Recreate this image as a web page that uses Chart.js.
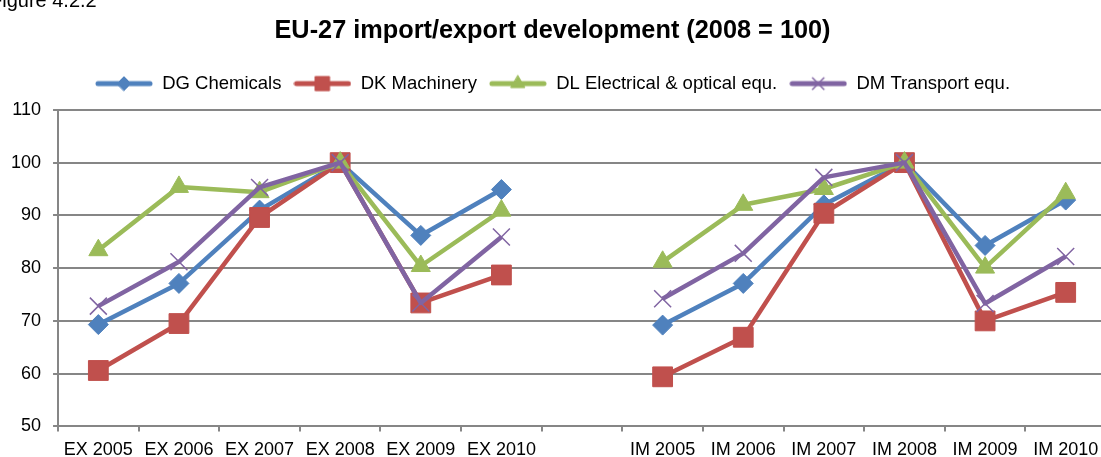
<!DOCTYPE html>
<html>
<head>
<meta charset="utf-8">
<script src="https://cdn.jsdelivr.net/npm/chart.js@4"></script>
<style>
  html, body { margin: 0; padding: 0; background: #fff; overflow: hidden; }
  #wrap { position: absolute; left: 0; top: 0; width: 1124px; height: 469px; }
</style>
</head>
<body>
<div id="wrap"><canvas id="myChart"></canvas></div>
<script>
// categories: exports, an empty slot, then imports
const categories = ['EX 2005', 'EX 2006', 'EX 2007', 'EX 2008', 'EX 2009', 'EX 2010', '',
  'IM 2005', 'IM 2006', 'IM 2007', 'IM 2008', 'IM 2009', 'IM 2010'];

// index values, 2008 = 100
const chemicals  = [69.3, 77.1, 91.0, 100, 86.2, 94.9, null, 69.2, 77.1, 92.0, 100, 84.3, 92.9];
const machinery  = [60.6, 69.5, 89.6, 100, 73.4, 78.7, null, 59.4, 66.9, 90.4, 100, 70.0, 75.4];
const electrical = [83.4, 95.4, 94.4, 100, 80.4, 90.9, null, 81.2, 92.0, 95.0, 100, 80.1, 94.2];
const transport  = [72.8, 81.2, 95.3, 100, 73.4, 85.9, null, 74.2, 82.8, 97.2, 100, 73.3, 82.2];

const seriesNames = ['DG Chemicals', 'DK Machinery', 'DL Electrical & optical equ.', 'DM Transport equ.'];
const yTicks = [50, 60, 70, 80, 90, 100, 110];

const FONT = 'Liberation Sans, Arial, sans-serif';
const GRID = '#868686';

const series = [
  { data: chemicals,  color: '#4F81BD', style: 'rectRot', radius: 10, legendRadius: 7 },
  { data: machinery,  color: '#C0504D', style: 'rect',    radius: 14, legendRadius: 10 },
  { data: electrical, color: '#9BBB59', style: 'triangle', radius: 11, legendRadius: 8 },
  { data: transport,  color: '#8064A2', style: 'crossRot', radius: 12, legendRadius: 8 },
];

// legend icon: a short thick line with the marker in the middle
function legendIcon(s) {
  const c = document.createElement('canvas');
  c.width = 58; c.height = 24;
  const g = c.getContext('2d');
  g.strokeStyle = s.color; g.fillStyle = s.color;
  g.lineWidth = 5; g.lineCap = 'round';
  g.beginPath(); g.moveTo(3, 12); g.lineTo(55, 12); g.stroke();
  g.lineWidth = s.style === 'crossRot' ? 1.5 : 1;
  Chart.helpers.drawPoint(g, { pointStyle: s.style, radius: s.legendRadius, borderWidth: g.lineWidth }, 29, 12);
  return c;
}
const legendIcons = series.map(legendIcon);

// caption that sits cut off in the top left corner
const captionPlugin = {
  id: 'caption',
  afterDraw(chart) {
    const ctx = chart.ctx;
    ctx.save();
    ctx.font = '20px ' + FONT;
    ctx.fillStyle = '#000';
    ctx.textBaseline = 'alphabetic';
    ctx.fillText('Figure 4.2.2', -10, 7);
    ctx.restore();
  }
};

const ctx = document.getElementById('myChart');
new Chart(ctx, {
  type: 'line',
  data: {
    labels: categories,
    datasets: series.map((s, i) => ({
      label: seriesNames[i],
      data: s.data,
      borderColor: s.color,
      backgroundColor: s.color,
      borderWidth: 4.5,
      borderJoinStyle: 'round',
      tension: 0,
      spanGaps: false,
      pointStyle: s.style,
      pointRadius: s.radius,
      pointHoverRadius: s.radius,
      pointBorderWidth: s.style === 'crossRot' ? 1.5 : 1,
      pointBackgroundColor: s.color,
      pointBorderColor: s.color,
      order: series.length - i  // later series drawn on top, like the original
    }))
  },
  options: {
    responsive: true,
    maintainAspectRatio: false,
    animation: false,
    layout: { padding: { left: -1, right: 18, top: 0, bottom: 0 } },
    plugins: {
      title: {
        display: true,
        text: 'EU-27 import/export development (2008 = 100)',
        color: '#000',
        font: { family: FONT, size: 25.3, weight: 'bold' },
        padding: { top: 16, bottom: 16 }
      },
      legend: {
        display: true,
        position: 'top',
        labels: {
          color: '#000',
          font: { family: FONT, size: 18.5 },
          usePointStyle: true,
          pointStyleWidth: 58,
          padding: 12,
          sort: (a, b) => a.datasetIndex - b.datasetIndex,
          generateLabels: chart => Chart.defaults.plugins.legend.labels.generateLabels(chart)
            .map(item => ({ ...item, pointStyle: legendIcons[item.datasetIndex] }))
        }
      },
      tooltip: { enabled: false }
    },
    scales: {
      x: {
        type: 'category',
        offset: true,
        grid: { display: true, drawOnChartArea: false, drawTicks: true, tickLength: 5, offset: true, color: GRID, lineWidth: 2 },
        border: { display: true, color: GRID, width: 2 },
        ticks: { color: '#000', font: { family: FONT, size: 18 }, padding: 8, maxRotation: 0, autoSkip: false }
      },
      // spacer between legend and plot
      gap: {
        type: 'category',
        position: 'top',
        grid: { display: false },
        border: { display: false },
        ticks: { display: false },
        afterFit: s => { s.height = 7; }
      },
      y: {
        min: 50,
        max: 110,
        afterBuildTicks: axis => { axis.ticks = yTicks.map(v => ({ value: v })); },
        grid: { color: GRID, lineWidth: 2, tickLength: 5 },
        border: { display: true, color: GRID, width: 2 },
        ticks: { color: '#000', font: { family: FONT, size: 18 }, padding: 12 }
      }
    }
  },
  plugins: [captionPlugin]
});
</script>
</body>
</html>
